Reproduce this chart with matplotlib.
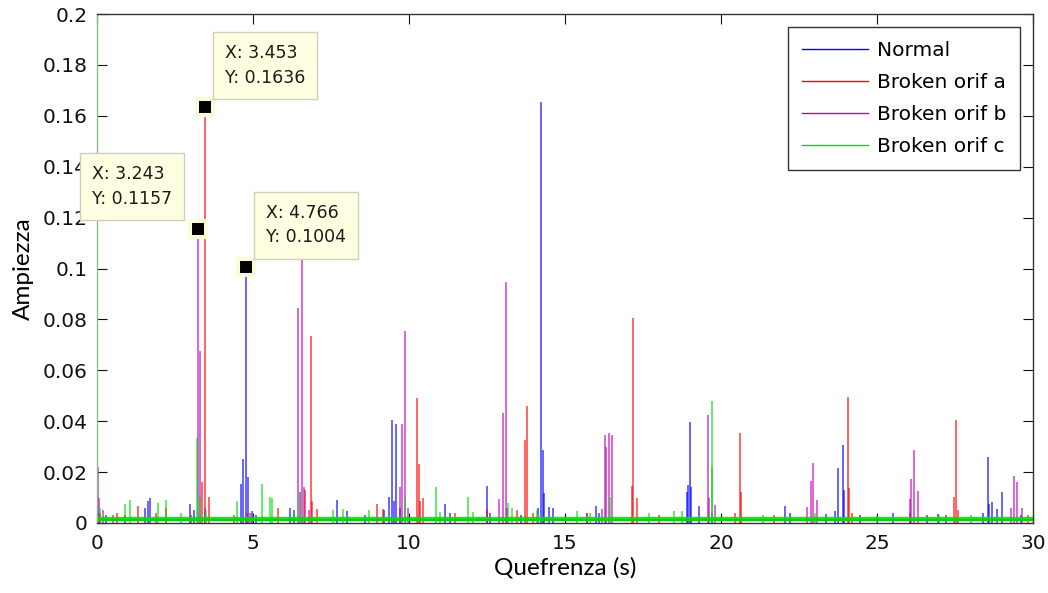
import matplotlib
matplotlib.use("Agg")
import matplotlib.pyplot as plt
import numpy as np

# Cepstrum peaks (quefrency in s, amplitude) for each operating condition
normal_q = [0.05, 0.3, 0.9, 1.55, 1.62, 1.7, 2.98, 3.1, 4.6, 4.68, 4.766, 4.83, 4.97, 5.1,
            6.2, 6.3, 7.7, 8.0, 8.6, 9.2, 9.37, 9.46, 9.52, 9.58, 9.7, 11.15, 11.3, 12.5,
            12.6, 13.6, 14.15, 14.23, 14.28, 14.33, 14.5, 14.6, 16.0, 16.1, 18.9, 18.95,
            19.0, 19.05, 19.3, 19.7, 22.05, 22.2, 23.37, 23.65, 23.75, 23.9, 23.95, 24.45,
            25.5, 26.6, 26.95, 27.2, 28.4, 28.55, 28.6, 28.7, 28.85, 29.0, 29.6]
normal_amp = [0.004, 0.003, 0.003, 0.006, 0.0085, 0.0098, 0.0075, 0.005, 0.0153, 0.025,
              0.1004, 0.018, 0.0047, 0.003, 0.006, 0.005, 0.009, 0.0047, 0.003, 0.005,
              0.0102, 0.0405, 0.0086, 0.039, 0.006, 0.0075, 0.004, 0.0146, 0.004, 0.003,
              0.006, 0.1654, 0.0287, 0.0118, 0.0062, 0.006, 0.0067, 0.004, 0.012, 0.015,
              0.0397, 0.014, 0.0068, 0.004, 0.0068, 0.004, 0.0037, 0.0047, 0.0215, 0.0306,
              0.013, 0.003, 0.004, 0.003, 0.0036, 0.003, 0.004, 0.026, 0.0075, 0.0083,
              0.0055, 0.012, 0.003]

orif_a_q = [0.1, 0.63, 1.3, 1.9, 2.2, 3.0, 3.37, 3.453, 3.6, 4.4, 4.9, 5.8, 6.67, 6.86,
            6.9, 7.05, 8.97, 9.17, 10.26, 10.32, 10.36, 10.45, 11.47, 12.5, 13.45, 13.73,
            13.78, 13.97, 15.7, 17.15, 17.18, 17.3, 18.0, 20.45, 20.6, 20.65, 21.7, 24.07,
            24.1, 24.2, 26.06, 27.47, 27.53, 27.6, 29.85]
orif_a_amp = [0.004, 0.004, 0.0067, 0.004, 0.006, 0.003, 0.016, 0.1636, 0.0102, 0.003,
              0.004, 0.006, 0.013, 0.0735, 0.0085, 0.0055, 0.0075, 0.0055, 0.049, 0.023,
              0.0085, 0.0098, 0.004, 0.0055, 0.005, 0.0326, 0.046, 0.004, 0.004, 0.0145,
              0.0805, 0.01, 0.003, 0.004, 0.0355, 0.012, 0.003, 0.0495, 0.0139, 0.004,
              0.004, 0.0102, 0.0405, 0.005, 0.003]

orif_b_q = [0.03, 0.08, 0.2, 0.5, 3.243, 3.3, 3.45, 4.8, 6.44, 6.5, 6.57, 6.62, 6.8, 9.7,
            9.78, 9.87, 9.96, 12.9, 13.0, 13.1, 13.15, 15.7, 16.2, 16.28, 16.33, 16.4,
            16.52, 19.58, 19.62, 19.8, 22.75, 22.88, 22.95, 23.07, 26.05, 26.1, 26.2,
            26.3, 29.3, 29.4, 29.5, 29.65]
orif_b_amp = [0.022, 0.01, 0.005, 0.003, 0.1157, 0.0676, 0.006, 0.004, 0.0845, 0.012,
              0.104, 0.014, 0.005, 0.014, 0.039, 0.0755, 0.006, 0.0094, 0.0432, 0.0947,
              0.006, 0.004, 0.0055, 0.0346, 0.03, 0.0355, 0.0346, 0.0424, 0.01, 0.007,
              0.0063, 0.0165, 0.0236, 0.009, 0.0094, 0.0173, 0.0287, 0.0124, 0.006,
              0.0185, 0.016, 0.006]

orif_c_q = [0.0, 0.1, 0.9, 1.06, 1.96, 2.2, 2.7, 3.2, 3.3, 3.5, 4.5, 5.3, 5.55, 5.6, 6.3,
            6.5, 7.56, 7.87, 8.72, 9.87, 10.87, 11.0, 11.9, 12.05, 13.17, 13.3, 14.1, 15.4,
            15.8, 16.45, 17.7, 18.5, 18.75, 19.7, 19.72, 21.35, 23.0, 25.0, 27.0, 28.0]
orif_c_amp = [0.35, 0.006, 0.0075, 0.009, 0.008, 0.009, 0.004, 0.0334, 0.01, 0.005,
              0.0085, 0.0153, 0.0102, 0.01, 0.005, 0.012, 0.005, 0.0054, 0.005, 0.0098,
              0.014, 0.0044, 0.0103, 0.0044, 0.008, 0.006, 0.005, 0.0047, 0.004, 0.0102,
              0.004, 0.0047, 0.0047, 0.048, 0.022, 0.003, 0.004, 0.003, 0.003, 0.003]

# Typical background level of each cepstrum between peaks
noise_floor = {"Normal": 0.0013, "Broken orif a": 0.0013,
               "Broken orif b": 0.0013, "Broken orif c": 0.0016}

series = {
    "Normal": (normal_q, normal_amp),
    "Broken orif a": (orif_a_q, orif_a_amp),
    "Broken orif b": (orif_b_q, orif_b_amp),
    "Broken orif c": (orif_c_q, orif_c_amp),
}
colors = {"Normal": "#0000ff", "Broken orif a": "#ff0000",
          "Broken orif b": "#c000c0", "Broken orif c": "#00e000"}

# Data tips shown on the plot: (series, quefrency)
datatips = [("Broken orif a", 3.453), ("Broken orif b", 3.243), ("Normal", 4.766)]
tip_offsets = {3.453: (20, 20, "left"), 3.243: (-26, 21, "right"), 4.766: (20, 21, "left")}

xticks = [0, 5, 10, 15, 20, 25, 30]
yticks = [0, 0.02, 0.04, 0.06, 0.08, 0.1, 0.12, 0.14, 0.16, 0.18, 0.2]

fig = plt.figure(figsize=(10.48, 5.93), dpi=100)
ax = fig.add_axes([97 / 1048, 1 - 523 / 593, 936 / 1048, 509 / 593])

for i, (name, (q, amp)) in enumerate(series.items()):
    c = colors[name]
    lw_floor = 3.2 if name == "Broken orif c" else 1.3
    ax.plot([0, 30], [noise_floor[name]] * 2, color=c, lw=lw_floor,
            alpha=0.9, zorder=2 + i * 0.1, solid_capstyle="butt")
    ax.vlines(q, 0, amp, colors=c, lw=1.2, alpha=0.7, zorder=2 + i * 0.1 + 0.05)
    ax.plot([], [], color=c, lw=1.0, label=name)

# Data tip markers and boxes
for name, qx in datatips:
    q, amp = series[name]
    ay = amp[q.index(qx)]
    ax.plot([qx], [ay], marker="s", ms=11.5, mfc="black", mec="#fbfbd8", mew=2.9,
            zorder=6, clip_on=False)
    dx, dy, ha = tip_offsets[qx]
    ax.annotate(f"X: {qx:.4g}\nY: {ay:.4g}", xy=(qx, ay), xytext=(dx, dy),
                textcoords="offset pixels", ha=ha, va="bottom", multialignment="left",
                fontsize=12.5, linespacing=1.45, color="#1a1a1a", zorder=7,
                bbox=dict(boxstyle="square,pad=0.7", fc="#ffffe1", ec="#cfcfc0", lw=1.0))

ax.set_xlim(0, 30)
ax.set_ylim(0, 0.2)
ax.set_xticks(xticks)
ax.set_xticklabels([f"{t:g}" for t in xticks])
ax.set_yticks(yticks)
ax.set_yticklabels([f"{t:g}" for t in yticks])
ax.tick_params(direction="in", top=True, right=True, length=7, width=0.8,
               labelsize=14.5, colors="#111111")
ax.tick_params(axis="x", pad=8)
ax.tick_params(axis="y", pad=7)
for s in ax.spines.values():
    s.set_linewidth(1.0)
    s.set_color("#333333")
ax.spines["left"].set_color("#8fb88f")

ax.set_xlabel("Quefrenza (s)", fontsize=17.5, family="Lato", labelpad=3)
ax.set_ylabel("Ampiezza", fontsize=17.5, family="Lato", labelpad=6)

leg = ax.legend(loc="upper right", bbox_to_anchor=(1020 / 1048, 1 - 27 / 593),
                bbox_transform=fig.transFigure, fontsize=14.5, frameon=True,
                fancybox=False, edgecolor="black", handlelength=3.3,
                handletextpad=0.4, labelspacing=0.64, borderpad=0.7, borderaxespad=0)
leg.get_frame().set_linewidth(1.0)

fig.savefig("out.png", dpi=100)
